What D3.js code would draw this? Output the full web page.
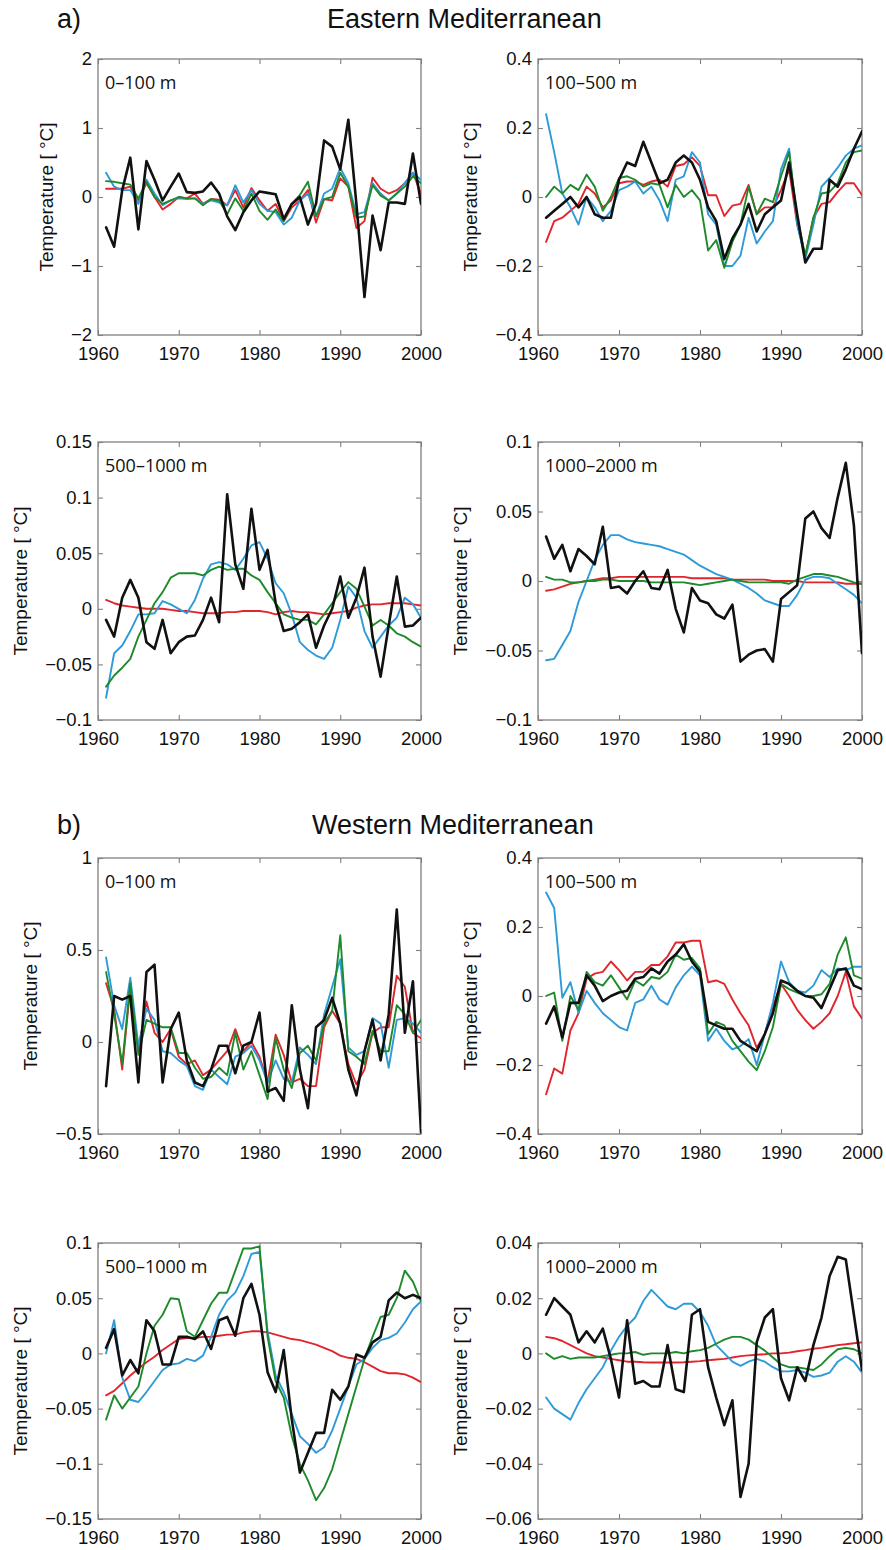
<!DOCTYPE html>
<html>
<head>
<meta charset="utf-8">
<script src="https://cdn.jsdelivr.net/npm/d3@7"></script>
<style>
  body { margin: 0; background: #fff; }
  .tick text { font-family: "Liberation Sans", Arial, sans-serif; font-size: 18.5px; fill: #111; }
  .tick line { stroke: #808080; stroke-width: 1.1; }
</style>
</head>
<body>
<svg id="fig" width="886" height="1550"></svg>
<script>
// Years 1961-2000, one value per year
const years = d3.range(1961, 2001);
const xTicks = [1960, 1970, 1980, 1990, 2000];

// ---- Eastern Mediterranean, 0-100 m ----
const e1Black = [-0.44,-0.72,0.1,0.57,-0.47,0.52,0.25,-0.05,0.15,0.34, 0.07,0.06,0.08,0.21,0.05,-0.28,-0.48,-0.22,-0.05,0.08, 0.06,0.04,-0.32,-0.1,0.0,-0.4,-0.1,0.82,0.73,0.4, 1.12,-0.1,-1.45,-0.27,-0.77,-0.08,-0.08,-0.1,0.63,-0.1];
const e1Red   = [0.12,0.12,0.12,0.15,-0.05,0.2,0.0,-0.18,-0.1,0.0, -0.02,0.05,-0.1,-0.03,-0.04,-0.12,0.1,-0.15,0.13,-0.05, -0.2,-0.1,-0.35,-0.15,-0.05,0.1,-0.37,-0.03,-0.05,0.27, 0.15,-0.45,-0.35,0.28,0.12,0.05,0.1,0.2,0.35,0.05];
const e1Blue  = [0.35,0.15,0.1,0.1,-0.1,0.25,0.05,-0.12,-0.05,-0.02, -0.03,-0.02,-0.1,-0.05,-0.08,-0.12,0.17,-0.08,0.1,-0.1, -0.2,-0.22,-0.4,-0.3,-0.05,0.05,-0.28,0.05,0.12,0.42, 0.2,-0.25,-0.22,0.2,0.05,-0.05,0.05,0.2,0.35,0.25];
const e1Green = [0.23,0.22,0.2,0.18,-0.02,0.22,0.0,-0.1,-0.05,0.0, -0.02,-0.02,-0.12,-0.03,-0.05,-0.25,-0.02,-0.2,0.05,-0.2, -0.33,-0.18,-0.35,-0.1,0.03,0.22,-0.28,-0.03,0.0,0.35, 0.15,-0.3,-0.28,0.17,0.02,-0.05,0.05,0.15,0.3,0.2];

// ---- Eastern Mediterranean, 100-500 m ----
const e2Black = [-0.06,-0.04,-0.02,0.0,-0.03,0.0,-0.05,-0.06,-0.06,0.05, 0.1,0.09,0.16,0.1,0.04,0.05,0.1,0.12,0.1,0.05, -0.03,-0.07,-0.18,-0.12,-0.08,-0.02,-0.1,-0.05,-0.03,-0.01, 0.1,-0.05,-0.19,-0.15,-0.15,0.05,0.03,0.08,0.14,0.19];
const e2Red   = [-0.13,-0.07,-0.06,-0.04,-0.02,0.03,0.01,-0.03,-0.01,0.04, 0.045,0.045,0.035,0.045,0.05,0.03,0.09,0.095,0.115,0.09, 0.005,0.005,-0.055,-0.025,-0.02,0.035,-0.05,-0.03,-0.03,0.02, 0.08,-0.08,-0.17,-0.06,-0.02,-0.015,0.015,0.04,0.04,0.005];
const e2Blue  = [0.24,0.13,0.01,-0.03,-0.08,0.0,-0.03,-0.07,-0.04,0.02, 0.03,0.045,0.01,0.03,-0.01,-0.07,0.05,0.06,0.13,0.1, -0.05,-0.08,-0.2,-0.2,-0.17,-0.06,-0.135,-0.1,-0.07,0.08, 0.14,-0.08,-0.18,-0.08,0.03,0.055,0.085,0.12,0.14,0.15];
const e2Green = [0.0,0.03,0.01,0.035,0.02,0.065,0.03,-0.04,0.0,0.055, 0.06,0.05,0.03,0.04,0.035,-0.03,0.035,0.0,0.02,-0.01, -0.155,-0.125,-0.205,-0.13,-0.08,0.03,-0.05,-0.005,-0.015,0.06, 0.13,-0.06,-0.17,-0.06,0.01,0.015,0.04,0.1,0.13,0.135];

// ---- Eastern Mediterranean, 500-1000 m ----
const e3Black = [-0.01,-0.025,0.01,0.026,0.01,-0.03,-0.036,-0.01,-0.04,-0.03, -0.025,-0.024,-0.01,0.01,-0.012,0.103,0.04,0.018,0.09,0.035, 0.053,0.005,-0.02,-0.018,-0.012,-0.005,-0.035,-0.015,0.0,0.029, -0.008,0.01,0.037,-0.025,-0.061,-0.015,0.029,-0.016,-0.015,-0.008];
const e3Red   = [0.008,0.005,0.003,0.002,0.001,0.0,0.0,0.0,-0.001,-0.002, -0.002,-0.003,-0.004,-0.004,-0.004,-0.003,-0.003,-0.002,-0.002,-0.002, -0.003,-0.005,-0.003,-0.002,-0.003,-0.003,-0.004,-0.005,-0.004,-0.003, -0.002,0.001,0.003,0.004,0.004,0.005,0.005,0.005,0.004,0.003];
const e3Blue  = [-0.08,-0.04,-0.033,-0.02,-0.005,-0.005,-0.004,0.007,0.004,0.0, -0.004,0.008,0.027,0.04,0.042,0.04,0.035,0.045,0.057,0.06, 0.045,0.023,0.014,-0.005,-0.03,-0.037,-0.042,-0.045,-0.035,-0.01, 0.02,0.01,-0.02,-0.035,-0.025,-0.015,-0.008,0.01,0.004,-0.008];
const e3Green = [-0.07,-0.06,-0.053,-0.045,-0.025,-0.01,0.005,0.015,0.028,0.032, 0.032,0.032,0.03,0.035,0.038,0.035,0.036,0.036,0.03,0.026, 0.015,0.005,-0.005,-0.008,-0.01,-0.01,-0.014,-0.005,0.005,0.015, 0.024,0.018,0.002,-0.015,-0.01,-0.015,-0.022,-0.025,-0.03,-0.034];

// ---- Eastern Mediterranean, 1000-2000 m ----
const e4Black = [0.032,0.016,0.026,0.007,0.023,0.018,0.012,0.039,-0.005,-0.004, -0.009,0.0,0.007,-0.005,-0.006,0.008,-0.02,-0.037,-0.005,-0.014, -0.016,-0.024,-0.027,-0.017,-0.058,-0.053,-0.05,-0.049,-0.058,-0.013, -0.008,-0.003,0.045,0.05,0.038,0.031,0.06,0.085,0.04,-0.052];
const e4Red   = [-0.007,-0.006,-0.004,-0.002,-0.001,0.0,0.001,0.002,0.002,0.003, 0.003,0.003,0.003,0.003,0.003,0.003,0.003,0.003,0.002,0.002, 0.002,0.002,0.002,0.001,0.001,0.001,0.001,0.001,0.0,0.0, 0.0,0.0,-0.001,-0.001,-0.001,-0.001,-0.001,-0.002,-0.002,-0.002];
const e4Blue  = [-0.057,-0.056,-0.046,-0.036,-0.015,0.0,0.015,0.026,0.033,0.033, 0.03,0.028,0.027,0.026,0.025,0.023,0.021,0.019,0.015,0.011, 0.008,0.005,0.003,0.001,-0.002,-0.005,-0.009,-0.014,-0.016,-0.018, -0.018,-0.01,0.001,0.003,0.003,0.002,-0.002,-0.006,-0.01,-0.016];
const e4Green = [0.003,0.001,0.001,-0.001,-0.001,0.0,0.0,0.001,0.001,0.0, 0.0,0.0,0.0,-0.001,-0.001,-0.001,-0.001,-0.001,-0.002,-0.003, -0.002,-0.001,0.0,0.001,0.0,-0.001,-0.001,-0.001,-0.001,-0.001, -0.002,0.001,0.003,0.005,0.005,0.004,0.003,0.001,-0.001,-0.002];

// ---- Western Mediterranean, 0-100 m ----
const w1Black = [-0.24,0.25,0.23,0.25,-0.22,0.38,0.42,-0.22,0.07,0.16, -0.1,-0.22,-0.24,-0.15,-0.02,-0.02,-0.17,-0.02,0.0,0.16, -0.27,-0.25,-0.32,0.2,-0.15,-0.36,0.08,0.12,0.24,0.1, -0.15,-0.29,-0.05,0.12,-0.1,0.15,0.72,0.05,0.33,-0.49];
const w1Red   = [0.32,0.18,-0.15,0.3,-0.05,0.22,0.05,0.0,0.07,-0.08, -0.12,-0.1,-0.18,-0.15,-0.1,-0.05,0.07,-0.05,0.0,-0.08, -0.22,0.04,-0.07,-0.22,-0.2,-0.24,-0.24,0.08,0.17,0.1, -0.12,-0.23,-0.15,0.05,0.08,0.08,0.36,0.3,0.05,0.02];
const w1Blue  = [0.46,0.2,0.07,0.35,-0.02,0.18,0.12,-0.05,-0.06,-0.1, -0.13,-0.24,-0.26,-0.15,-0.19,-0.23,-0.08,-0.06,-0.02,-0.1, -0.22,-0.1,-0.2,-0.22,-0.03,-0.07,-0.12,0.15,0.3,0.45, -0.03,-0.07,-0.05,0.13,0.1,-0.14,0.12,0.13,0.1,0.05];
const w1Green = [0.38,0.15,-0.12,0.32,-0.07,0.12,0.1,0.08,0.08,-0.06, -0.06,-0.14,-0.2,-0.19,-0.14,-0.18,0.05,-0.15,-0.05,-0.18, -0.31,0.02,-0.15,-0.25,-0.06,-0.02,-0.1,0.1,0.17,0.58, -0.05,-0.08,-0.12,0.06,-0.05,-0.05,0.2,0.15,0.05,0.12];

// ---- Western Mediterranean, 100-500 m ----
const w2Black = [-0.08,-0.03,-0.12,-0.02,-0.02,0.06,0.03,-0.015,0.0,0.01, 0.015,0.05,0.055,0.08,0.065,0.1,0.12,0.15,0.1,0.07, -0.075,-0.085,-0.095,-0.095,-0.13,-0.145,-0.16,-0.11,-0.05,0.045, 0.035,0.015,0.0,-0.005,-0.035,0.02,0.075,0.08,0.03,0.02];
const w2Red   = [-0.285,-0.21,-0.225,-0.1,-0.05,0.05,0.065,0.07,0.1,0.075, 0.045,0.07,0.07,0.09,0.09,0.115,0.155,0.155,0.16,0.16, 0.04,0.045,0.035,-0.01,-0.05,-0.085,-0.15,-0.11,-0.03,0.035, 0.0,-0.04,-0.07,-0.095,-0.075,-0.05,0.0,0.07,-0.03,-0.065];
const w2Blue  = [0.3,0.255,-0.005,0.04,-0.05,0.015,-0.02,-0.05,-0.07,-0.09, -0.1,-0.02,-0.01,0.03,-0.01,-0.025,0.025,0.06,0.085,0.06, -0.13,-0.095,-0.13,-0.155,-0.145,-0.125,-0.2,-0.11,-0.02,0.1, 0.04,0.015,0.01,0.03,0.075,0.055,0.08,0.075,0.085,0.085];
const w2Green = [0.0,0.01,-0.13,0.0,-0.04,0.07,0.04,0.03,0.06,0.025, -0.01,0.045,0.03,0.055,0.05,0.07,0.12,0.105,0.11,0.08, -0.11,-0.075,-0.085,-0.13,-0.16,-0.19,-0.215,-0.16,-0.09,0.035, 0.02,0.01,0.0,0.0,0.005,0.035,0.12,0.17,0.06,0.05];

// ---- Western Mediterranean, 500-1000 m ----
const w3Black = [0.005,0.022,-0.02,-0.006,-0.018,0.03,0.02,-0.01,-0.01,0.015, 0.015,0.013,0.02,0.004,0.03,0.033,0.016,0.05,0.063,0.035, -0.017,-0.035,0.003,-0.06,-0.108,-0.09,-0.072,-0.072,-0.033,-0.042, -0.03,-0.001,-0.004,0.01,0.015,0.048,0.055,0.05,0.053,0.05];
const w3Red   = [-0.038,-0.034,-0.027,-0.02,-0.014,-0.008,-0.003,0.003,0.008,0.013, 0.014,0.014,0.015,0.015,0.016,0.017,0.017,0.019,0.02,0.02, 0.019,0.017,0.015,0.013,0.012,0.01,0.008,0.005,0.002,-0.002, -0.004,-0.005,-0.008,-0.012,-0.016,-0.018,-0.018,-0.019,-0.022,-0.026];
const w3Blue  = [0.0,0.03,-0.022,-0.042,-0.044,-0.035,-0.025,-0.015,-0.01,-0.009, -0.005,-0.007,-0.002,0.015,0.035,0.048,0.055,0.07,0.09,0.092, 0.02,-0.02,-0.035,-0.055,-0.075,-0.082,-0.09,-0.085,-0.07,-0.05, -0.03,-0.01,-0.005,0.005,0.012,0.014,0.018,0.028,0.04,0.047];
const w3Green = [-0.06,-0.038,-0.05,-0.04,-0.03,0.0,0.025,0.035,0.05,0.049, 0.02,0.015,0.03,0.045,0.055,0.055,0.075,0.095,0.095,0.097, 0.015,-0.025,-0.04,-0.075,-0.1,-0.115,-0.133,-0.122,-0.105,-0.08, -0.055,-0.03,-0.005,0.015,0.033,0.035,0.05,0.075,0.065,0.047];

// ---- Western Mediterranean, 1000-2000 m ----
const w4Black = [0.014,0.02,0.017,0.014,0.004,0.008,0.004,0.009,-0.002,-0.016, 0.012,-0.011,-0.01,-0.012,-0.012,0.003,-0.013,-0.014,0.014,0.016, -0.005,-0.016,-0.026,-0.017,-0.052,-0.04,0.004,0.013,0.016,-0.009, -0.017,-0.005,-0.01,0.003,0.013,0.028,0.035,0.034,0.014,-0.006];
const w4Red   = [0.006,0.0055,0.0045,0.003,0.0015,0.0,-0.001,-0.0015,-0.002,-0.0025, -0.003,-0.003,-0.0032,-0.0033,-0.0033,-0.0033,-0.0033,-0.0032,-0.003,-0.0028, -0.0025,-0.0022,-0.002,-0.0015,-0.001,-0.0007,-0.0005,-0.0003,0.0,0.0, 0.0003,0.0008,0.0012,0.0017,0.002,0.0025,0.003,0.0033,0.0037,0.004];
const w4Blue  = [-0.016,-0.02,-0.022,-0.024,-0.018,-0.013,-0.009,-0.005,0.001,0.006, 0.01,0.013,0.019,0.023,0.02,0.017,0.016,0.018,0.018,0.015, 0.01,0.003,0.0,-0.003,-0.0045,-0.003,-0.002,-0.003,-0.005,-0.0065, -0.0065,-0.006,-0.007,-0.0085,-0.008,-0.007,-0.003,-0.001,-0.003,-0.007];
const w4Green = [0.0,-0.002,-0.001,-0.002,-0.0015,-0.0015,-0.0015,-0.001,-0.0005,0.0, 0.0,0.0005,-0.0005,0.0,0.0,0.0,0.0005,0.0,0.0008,0.0012, 0.002,0.0035,0.005,0.006,0.006,0.005,0.003,0.001,-0.0015,-0.004, -0.005,-0.005,-0.0055,-0.006,-0.004,-0.001,0.0015,0.002,0.0015,0.0];

// y-axis ranges and tick values of each panel
const ticks0to100E  = [-2, -1, 0, 1, 2];
const ticks100to500 = [-0.4, -0.2, 0, 0.2, 0.4];
const ticks500E     = [-0.1, -0.05, 0, 0.05, 0.1, 0.15];
const ticks1000E    = [-0.1, -0.05, 0, 0.05, 0.1];
const ticks0to100W  = [-0.5, 0, 0.5, 1];
const ticks500W     = [-0.15, -0.1, -0.05, 0, 0.05, 0.1];
const ticks1000W    = [-0.06, -0.04, -0.02, 0, 0.02, 0.04];

const lineColors = { red: "#e0262c", blue: "#2e9ad8", green: "#1f8a2b", black: "#111111" };
const lineWidths = { red: 1.9, blue: 1.9, green: 1.9, black: 2.6 };

// frame geometry
const cols = [{ x0: 98, x1: 421 }, { x0: 538, x1: 862 }];
const rows = [{ y0: 59, y1: 335 }, { y0: 442, y1: 720 }, { y0: 858, y1: 1134 }, { y0: 1243, y1: 1519 }];

const panels = [
  { col: 0, row: 0, label: "0–100 m",     ticks: ticks0to100E,  s: { red: e1Red, blue: e1Blue, green: e1Green, black: e1Black } },
  { col: 1, row: 0, label: "100–500 m",   ticks: ticks100to500, s: { red: e2Red, blue: e2Blue, green: e2Green, black: e2Black } },
  { col: 0, row: 1, label: "500–1000 m",  ticks: ticks500E,     s: { red: e3Red, blue: e3Blue, green: e3Green, black: e3Black } },
  { col: 1, row: 1, label: "1000–2000 m", ticks: ticks1000E,    s: { red: e4Red, blue: e4Blue, green: e4Green, black: e4Black } },
  { col: 0, row: 2, label: "0–100 m",     ticks: ticks0to100W,  s: { red: w1Red, blue: w1Blue, green: w1Green, black: w1Black } },
  { col: 1, row: 2, label: "100–500 m",   ticks: ticks100to500, s: { red: w2Red, blue: w2Blue, green: w2Green, black: w2Black } },
  { col: 0, row: 3, label: "500–1000 m",  ticks: ticks500W,     s: { red: w3Red, blue: w3Blue, green: w3Green, black: w3Black } },
  { col: 1, row: 3, label: "1000–2000 m", ticks: ticks1000W,    s: { red: w4Red, blue: w4Blue, green: w4Green, black: w4Black } }
];

const svg = d3.select("#fig");
const fmt = v => (v < 0 ? "\u2212" : "") + Math.abs(v);
const drawOrder = ["red", "blue", "green", "black"];

// section headings
const headings = [
  { tag: "a)", title: "Eastern Mediterranean", y: 28, tx: 327 },
  { tag: "b)", title: "Western Mediterranean", y: 834, tx: 312 }
];
headings.forEach(h => {
  svg.append("text").attr("x", 57).attr("y", h.y)
    .style("font-family", "'Liberation Sans', Arial, sans-serif").style("font-size", "27px").attr("fill", "#111")
    .text(h.tag);
  svg.append("text").attr("x", h.tx).attr("y", h.y)
    .style("font-family", "'Liberation Sans', Arial, sans-serif").style("font-size", "27px").attr("fill", "#111")
    .text(h.title);
});

panels.forEach((p, i) => {
  const c = cols[p.col], r = rows[p.row];
  const x = d3.scaleLinear().domain([1960, 2000]).range([c.x0, c.x1]);
  const y = d3.scaleLinear().domain(d3.extent(p.ticks)).range([r.y1, r.y0]);
  const g = svg.append("g");

  // clip region
  const clipId = "clip" + i;
  svg.append("clipPath").attr("id", clipId).append("rect")
    .attr("x", c.x0).attr("y", r.y0).attr("width", c.x1 - c.x0).attr("height", r.y1 - r.y0);

  // axes (ticks inside the frame on all four sides)
  const axB = g.append("g").attr("transform", `translate(0,${r.y1})`)
    .call(d3.axisBottom(x).tickValues(xTicks).tickFormat(d3.format("d")).tickSizeInner(-5).tickSizeOuter(0).tickPadding(12));
  const axT = g.append("g").attr("transform", `translate(0,${r.y0})`)
    .call(d3.axisTop(x).tickValues(xTicks).tickFormat("").tickSizeInner(-5).tickSizeOuter(0));
  const axL = g.append("g").attr("transform", `translate(${c.x0},0)`)
    .call(d3.axisLeft(y).tickValues(p.ticks).tickFormat(fmt).tickSizeInner(-5).tickSizeOuter(0).tickPadding(6));
  const axR = g.append("g").attr("transform", `translate(${c.x1},0)`)
    .call(d3.axisRight(y).tickValues(p.ticks).tickFormat("").tickSizeInner(-5).tickSizeOuter(0));
  [axB, axT, axL, axR].forEach(a => a.select(".domain").remove());
  [axB, axT, axL, axR].forEach(a => a.selectAll("text").attr("font-family", null).attr("font-size", null));

  // frame
  g.append("rect").attr("x", c.x0).attr("y", r.y0).attr("width", c.x1 - c.x0).attr("height", r.y1 - r.y0)
    .attr("fill", "none").attr("stroke", "#808080").attr("stroke-width", 1.3);

  // series lines
  const line = d3.line().x((d, k) => x(years[k])).y(d => y(d));
  const lg = g.append("g").attr("clip-path", `url(#${clipId})`);
  drawOrder.forEach(key => {
    lg.append("path").datum(p.s[key]).attr("d", line)
      .attr("fill", "none").attr("stroke", lineColors[key]).attr("stroke-width", lineWidths[key])
      .attr("stroke-linejoin", "round").attr("stroke-linecap", "round");
  });

  // depth label
  g.append("text").attr("x", c.x0 + 7).attr("y", r.y0 + 30)
    .style("font-family", "'Open Sans', sans-serif").style("font-size", "18px").attr("fill", "#111")
    .text(p.label);

  // y-axis title, placed left of the widest tick label
  let maxW = 0;
  axL.selectAll("text").each(function () { maxW = Math.max(maxW, this.getComputedTextLength()); });
  const lx = c.x0 - 6 - maxW - 18;
  g.append("text")
    .attr("transform", `translate(${lx},${(r.y0 + r.y1) / 2}) rotate(-90)`)
    .attr("text-anchor", "middle")
    .style("font-family", "'Liberation Sans', Arial, sans-serif").style("font-size", "19px").attr("fill", "#111")
    .text("Temperature [ \u00B0C]");
});
</script>
</body>
</html>
